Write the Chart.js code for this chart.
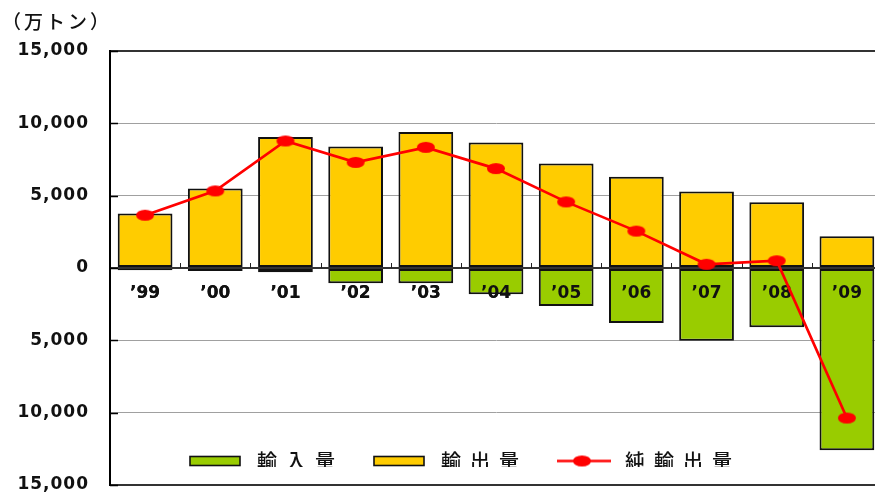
<!DOCTYPE html>
<html><head><meta charset="utf-8">
<script src="https://cdn.jsdelivr.net/npm/chart.js@4"></script>
<style>
html,body{margin:0;padding:0;background:#fff;overflow:hidden;}
#wrap{position:relative;width:885px;height:492px;}
</style></head>
<body><div id="wrap"><canvas id="c"></canvas></div>
<script>
const categories = ['’99','’00','’01','’02','’03','’04','’05','’06','’07','’08','’09'];
const importValues = [-150,-200,-300,-1060,-1060,-1810,-2620,-3810,-5030,-4090,-12600];
const exportValues = [3770,5500,9060,8390,9400,8670,7220,6300,5290,4550,2190];
const netExportValues = [3650,5330,8780,7300,8340,6870,4570,2550,255,500,-10370];
const seriesNames = ['輸入量','輸出量','純輸出量'];
const yTickValues = [-15000,-10000,-5000,0,5000,10000,15000];
const yTickLabels = ['15,000','10,000','5,000','0','5,000','10,000','15,000'];
const unitLabel = '（万トン）';

const GREEN = '#99CC00', ORANGE = '#FFCC00', RED = '#FF0000';

function makeCanvas(w, h, draw) { const c = document.createElement('canvas'); c.width = w; c.height = h; draw(c.getContext('2d')); return c; }
const dotImg = makeCanvas(20, 13, g => { g.fillStyle = RED; g.beginPath(); g.ellipse(10, 6.5, 9, 5.5, 0, 0, Math.PI * 2); g.fill(); });
const swatchBox = col => makeCanvas(58, 12, g => { g.fillStyle = col; g.fillRect(1, 1.5, 50, 9); g.strokeStyle = '#111'; g.lineWidth = 1.6; g.strokeRect(1, 1.5, 50, 9); });
const swatchLine = makeCanvas(58, 13, g => { g.strokeStyle = RED; g.lineWidth = 2.5; g.beginPath(); g.moveTo(0, 6.5); g.lineTo(54, 6.5); g.stroke(); g.fillStyle = RED; g.beginPath(); g.ellipse(25, 6.5, 9, 5.5, 0, 0, Math.PI * 2); g.fill(); });
const swatches = [swatchBox(GREEN), swatchBox(ORANGE), swatchLine];

const tickFont = { family: 'DejaVu Sans', size: 17, weight: 'bold' };
const cjkFont = 'Noto Sans CJK JP';

function withSpacing(chart, obj, name, spacing) {
  const orig = obj[name];
  obj[name] = function (...a) {
    const ctx = chart.ctx; const prev = ctx.letterSpacing;
    ctx.letterSpacing = spacing;
    try { return orig.apply(this, a); } finally { ctx.letterSpacing = prev; }
  };
}

const decor = {
  id: 'decor',
  afterInit(chart) {
    withSpacing(chart, chart.legend, 'fit', '9px');
    withSpacing(chart, chart.legend, 'draw', '9px');
    withSpacing(chart, chart.titleBlock, 'draw', '3px');
  },
  afterLayout(chart) {
    const lg = chart.legend;
    const pad = lg.options.labels.padding;
    const start = (lg.left + pad + lg.right - lg.lineWidths[0]) / 2;
    const dx = 189 - start;
    lg.left += dx; lg.right += dx;
    lg.top = 461 - pad - 10; lg.height = 45; lg.bottom = lg.top + lg.height;
    const ys = chart.scales.y;
    if (!ys._spaced) { withSpacing(chart, ys, 'drawLabels', '1px'); ys._spaced = true; }
  },
  beforeDatasetsDraw(chart) {
    const { ctx, chartArea, scales: { x, y } } = chart;
    ctx.save();
    ctx.strokeStyle = '#000'; ctx.lineWidth = 1.5;
    ctx.beginPath();
    y.ticks.forEach(t => { const py = Math.round(y.getPixelForValue(t.value)) + 0.5; ctx.moveTo(chartArea.left, py); ctx.lineTo(chartArea.left + 8, py); });
    ctx.stroke();
    ctx.lineWidth = 1; ctx.strokeStyle = '#222';
    ctx.beginPath();
    const y0 = y.getPixelForValue(0);
    const half = (x.getPixelForValue(1) - x.getPixelForValue(0)) / 2;
    for (let i = 0; i < categories.length - 1; i++) { const px = Math.round(x.getPixelForValue(i) + half) + 0.5; ctx.moveTo(px, y0 - 5); ctx.lineTo(px, y0); }
    ctx.stroke();
    ctx.restore();
  },
  beforeDatasetDraw(chart, args) {
    if (args.meta.type === 'line') chart.scales.x.drawLabels(chart.chartArea);
  }
};

const isMajor = v => v === 0 || Math.abs(v) === 15000;
const barStyle = { borderColor: '#111', borderWidth: 2, borderSkipped: false, barPercentage: 1, categoryPercentage: 0.78, order: 1, stack: 'trade' };

new Chart(document.getElementById('c'), {
  type: 'bar',
  data: {
    labels: categories,
    datasets: [
      Object.assign({ type: 'bar', label: seriesNames[0], data: importValues, backgroundColor: GREEN }, barStyle),
      Object.assign({ type: 'bar', label: seriesNames[1], data: exportValues, backgroundColor: ORANGE }, barStyle),
      { type: 'line', label: seriesNames[2], data: netExportValues, borderColor: RED, backgroundColor: RED, borderWidth: 2.7, pointStyle: dotImg, pointRadius: 6, pointHoverRadius: 6, fill: false, tension: 0, order: 0, stack: 'net' }
    ]
  },
  options: {
    responsive: true, maintainAspectRatio: false, animation: false,
    layout: { autoPadding: false, padding: { left: 2, right: 3, top: 0, bottom: 6 } },
    scales: {
      x: {
        stacked: true, position: { y: 0 },
        afterFit: s => { s.height = 0; },
        grid: { display: false, drawTicks: false }, border: { display: false },
        ticks: { font: tickFont, color: '#111', padding: 15, maxRotation: 0, autoSkip: false }
      },
      y: {
        stacked: true, min: -15000, max: 15000,
        afterBuildTicks: s => { s.ticks = yTickValues.map(v => ({ value: v })); },
        afterFit: s => { s.width = 108; s.paddingTop = 0; s.paddingBottom = 0; },
        grid: {
          drawTicks: false,
          color: c => (c.tick && isMajor(c.tick.value)) ? '#333' : '#a0a0a0',
          lineWidth: c => (c.tick && isMajor(c.tick.value)) ? 2 : 1
        },
        border: { color: '#000', width: 2 },
        ticks: { font: tickFont, color: '#111', padding: 21, callback: (v, i) => yTickLabels[i] }
      }
    },
    plugins: {
      title: { display: true, text: unitLabel, align: 'start', color: '#111', font: { family: cjkFont, size: 19, weight: '500' }, padding: { top: 10, bottom: 18.2 } },
      legend: {
        display: true, position: 'bottom', maxHeight: 1,
        labels: {
          usePointStyle: true, pointStyleWidth: 58, boxHeight: 10, padding: 29, color: '#111',
          font: { family: cjkFont, size: 20, weight: '500' },
          sort: (a, b) => a.datasetIndex - b.datasetIndex,
          generateLabels: chart => {
            const items = Chart.defaults.plugins.legend.labels.generateLabels(chart);
            items.forEach(it => { it.pointStyle = swatches[it.datasetIndex]; });
            return items;
          }
        }
      },
      tooltip: { enabled: false }
    }
  },
  plugins: [decor]
});
</script>
</body></html>
